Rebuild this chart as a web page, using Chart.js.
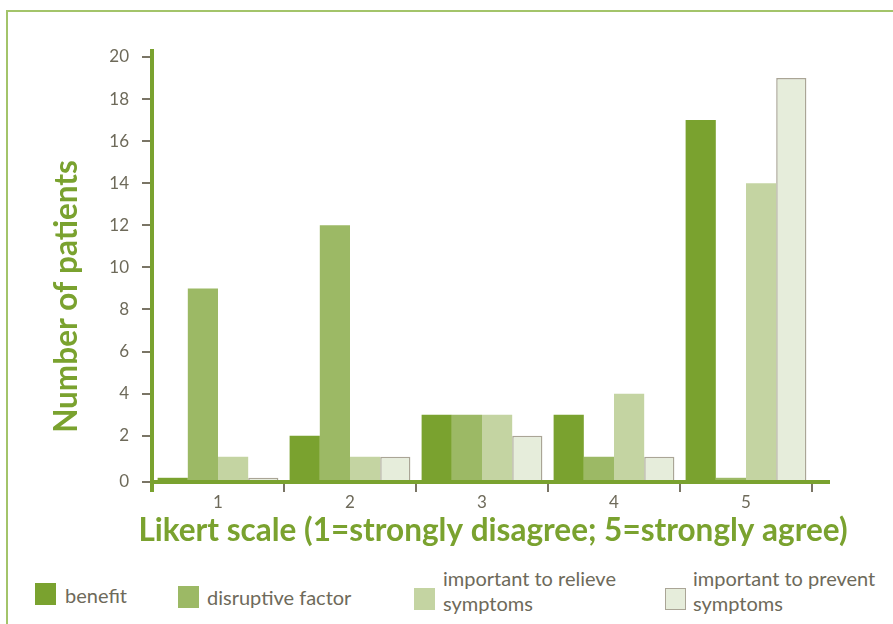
<!DOCTYPE html>
<html>
<head>
<meta charset="utf-8">
<script src="https://cdn.jsdelivr.net/npm/chart.js@4.4.1/dist/chart.umd.min.js"></script>
<style>
  html, body { margin: 0; padding: 0; background: #fff; }
  body { width: 893px; height: 624px; position: relative; overflow: hidden; font-family: Lato, "Open Sans", sans-serif; }
  #frame { position: absolute; left: 6px; top: 10px; width: 1000px; height: 800px;
           border-left: 2px solid #a3c46a; border-top: 2px solid #a3c46a; }
  #chart { position: absolute; left: 0; top: 0; }
  .sw { position: absolute; box-sizing: border-box; width: 21px; height: 22px; }
  .txt { position: absolute; color: #6e6a5a; font-size: 20px; line-height: 25px; white-space: nowrap; }
</style>
</head>
<body>
<div id="frame"></div>
<canvas id="chart" width="893" height="560"></canvas>
<div id="legend"></div>
<script>
// Answers per Likert level
const categories = ['1', '2', '3', '4', '5'];
const benefit    = [0, 2, 3, 3, 17];
const disruptive = [9, 12, 3, 1, 0];
const relieve    = [1, 1, 3, 4, 14];
const prevent    = [0, 1, 2, 1, 19];
const yTickValues = [0, 2, 4, 6, 8, 10, 12, 14, 16, 18, 20];
const seriesNames = ['benefit', 'disruptive factor', 'important to relieve\nsymptoms', 'important to prevent\nsymptoms'];
const xTitleText = 'Likert scale (1=strongly disagree; 5=strongly agree)';
const yTitleText = 'Number of patients';

// the axis floor sits a little below zero so empty answers still show a sliver
const Y_FLOOR = -0.2;

const GREEN = '#7aa22f';
const colors = ['#7aa22f', '#9cb965', '#c4d4a2', '#e6eddb'];
const series = [benefit, disruptive, relieve, prevent];

const datasets = series.map((d, i) => ({
  label: seriesNames[i],
  data: d,
  backgroundColor: colors[i],
  borderColor: i === 3 ? '#aaa596' : colors[i],
  borderWidth: i === 3 ? 1.5 : 0,
  base: Y_FLOOR,
  categoryPercentage: 0.915,
  barPercentage: 1.0
}));

const axisLines = {
  id: 'axisLines',
  afterDatasetsDraw(chart) {
    const { ctx, chartArea: { left, right, top, bottom } } = chart;
    ctx.save();
    ctx.strokeStyle = GREEN;
    ctx.lineWidth = 4;
    ctx.beginPath();
    ctx.moveTo(left, top - 8);
    ctx.lineTo(left, bottom + 10);
    ctx.stroke();
    ctx.beginPath();
    ctx.moveTo(left, bottom);
    ctx.lineTo(right + 18, bottom);
    ctx.stroke();
    ctx.restore();
  }
};

// axis titles, set a little off the plot centre
const axisTitles = {
  id: 'axisTitles',
  afterDraw(chart) {
    const { ctx, chartArea: { left, right, top, bottom } } = chart;
    ctx.save();
    ctx.fillStyle = GREEN;
    ctx.font = 'bold 31.5px Lato';
    ctx.textAlign = 'center';
    ctx.textBaseline = 'middle';
    ctx.fillText(xTitleText, (left + right) / 2 + 11, 531);
    ctx.translate(67, (top + bottom) / 2 + 27);
    ctx.rotate(-Math.PI / 2);
    ctx.fillText(yTitleText, 0, 0);
    ctx.restore();
  }
};

new Chart(document.getElementById('chart'), {
  type: 'bar',
  data: { labels: categories, datasets },
  plugins: [axisLines, axisTitles],
  options: {
    responsive: false,
    animation: false,
    layout: { padding: { top: 57, right: 81, bottom: 0, left: 0 } },
    plugins: { legend: { display: false }, tooltip: { enabled: false } },
    scales: {
      x: {
        grid: { offset: true, drawOnChartArea: false, color: '#7a7565', lineWidth: 2, tickLength: 10 },
        border: { display: false },
        ticks: { color: '#6e6a5a', font: { family: 'Lato', size: 17 }, padding: 0 },
        afterFit(s) { s.height = 78; }
      },
      y: {
        min: Y_FLOOR,
        max: 20,
        afterBuildTicks(s) { s.ticks = yTickValues.map(v => ({ value: v === 0 ? Y_FLOOR : v })); },
        grid: { drawOnChartArea: false, color: '#7a7565', lineWidth: 2, tickLength: 10 },
        border: { display: false },
        ticks: {
          color: '#6e6a5a', font: { family: 'Lato', size: 17 }, padding: 13,
          callback: v => (v === Y_FLOOR ? '0' : String(v))
        },
        afterFit(s) { s.width = 152; }
      }
    }
  }
});

// legend built from the series names
const legendPlaces = [
  { box: [35, 583], text: [65, 583] },
  { box: [178, 586], text: [207, 585] },
  { box: [414, 588], text: [443, 566] },
  { box: [665, 588], text: [693, 566] }
];
const legend = document.getElementById('legend');
seriesNames.forEach((name, i) => {
  const p = legendPlaces[i];
  const sw = document.createElement('div');
  sw.className = 'sw';
  sw.style.left = p.box[0] + 'px';
  sw.style.top = p.box[1] + 'px';
  sw.style.background = colors[i];
  if (i === 3) sw.style.border = '1.5px solid #aaa596';
  legend.appendChild(sw);
  const t = document.createElement('div');
  t.className = 'txt';
  t.style.left = p.text[0] + 'px';
  t.style.top = p.text[1] + 'px';
  name.split('\n').forEach((line, k) => {
    if (k) t.appendChild(document.createElement('br'));
    t.appendChild(document.createTextNode(line));
  });
  legend.appendChild(t);
});
</script>
</body>
</html>
